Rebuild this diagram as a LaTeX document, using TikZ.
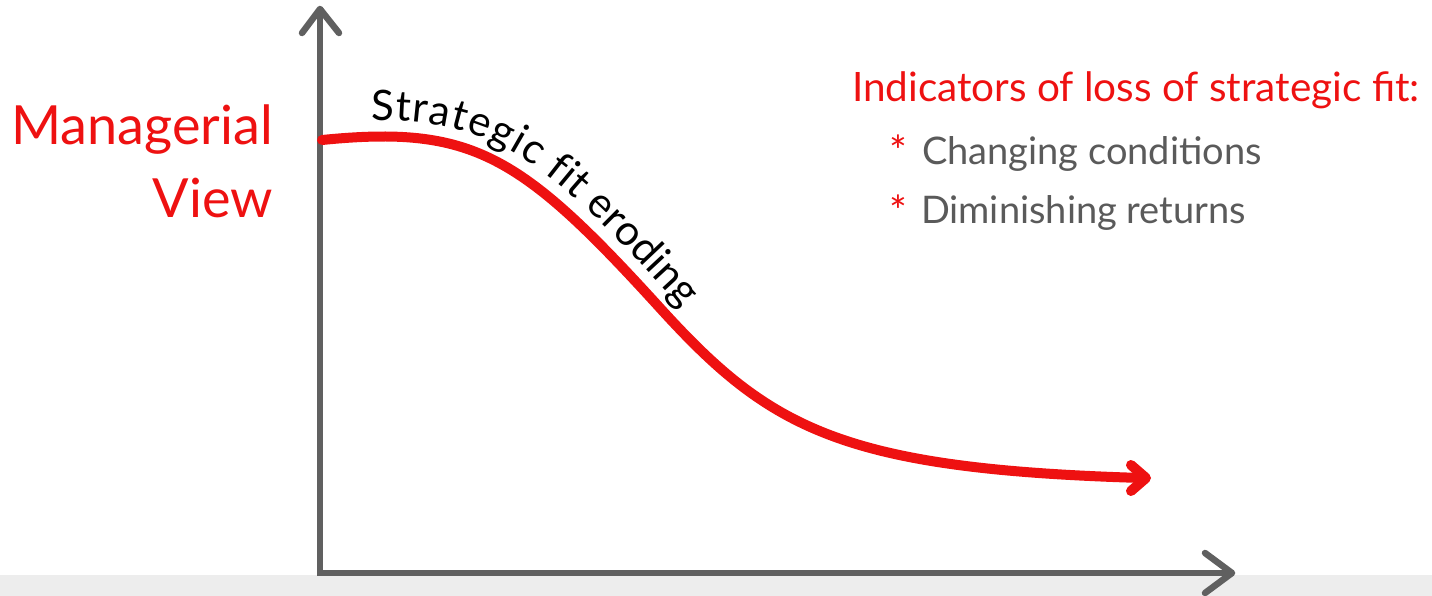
\documentclass[tikz,border=0pt]{standalone}
\usepackage{fontspec}
\setmainfont{Lato}
\usetikzlibrary{decorations.text}
\definecolor{axisgray}{HTML}{606060}
\definecolor{cred}{HTML}{EE1111}
\definecolor{band}{HTML}{EDEDED}
\definecolor{txtgray}{HTML}{5A5A5A}
\tikzset{
  axisline/.style={draw=axisgray, line width=6.5pt, line cap=round, line join=round},
  curveline/.style={draw=cred, line width=10pt, line cap=round, line join=round},
  lbl/.style={inner sep=0pt, outer sep=0pt},
  bigred/.style={lbl, text=cred, font=\fontsize{54}{54}\selectfont},
  headred/.style={lbl, text=cred, font=\fontsize{40.5}{40.5}\selectfont},
  star/.style={lbl, text=cred, font=\fontsize{42}{42}\selectfont},
  item/.style={lbl, text=txtgray, font=\fontsize{38}{38}\selectfont}
}
\begin{document}
\begin{tikzpicture}[x=1pt,y=-1pt]
\useasboundingbox (0,0) rectangle (1432,596);
\fill[band] (0,575) rectangle (1432,596);
% axes
\draw[axisline, line join=miter, line cap=butt] (320,9) -- (320,573) -- (1232,573);
\draw[axisline] (302,33) -- (320,9) -- (339,33);
\draw[axisline] (1205,553) -- (1232,573) -- (1205,593);
% curve
\coordinate (c0) at (322,140);
\coordinate (cm) at (660,308);
\coordinate (c1) at (1142,478);
\coordinate (tip) at (1146,478);
\coordinate (barbA) at (1131,465);
\coordinate (barbB) at (1131,491);
\draw[curveline] (c0) .. controls (472,125) and (520,154) .. (cm)
  .. controls (770,429) and (842,469) .. (c1);
\draw[curveline] (barbA) -- (tip) -- (barbB);
\path[decorate, decoration={text along path, raise=16pt,
  text align={left indent=50pt},
  text={|\fontsize{42}{42}\selectfont|Strategic fit eroding}}]
  (c0) .. controls (472,125) and (520,154) .. (cm)
  .. controls (770,429) and (842,469) .. (c1);
% labels
\node[bigred, anchor=base east] (m1) at (273,145) {Managerial};
\node[bigred, anchor=base east] (m2) at (273,218) {View};
\node[headred, anchor=base west] (h) at (852,102) {Indicators of loss of strategic fit:};
\node[star, anchor=base west] (s1) at (889,167) {*};
\node[item, anchor=base west] (i1) at (922,165) {Changing conditions};
\node[star, anchor=base west] (s2) at (889,226) {*};
\node[item, anchor=base west] (i2) at (921,224) {Diminishing returns};
\end{tikzpicture}
\end{document}
